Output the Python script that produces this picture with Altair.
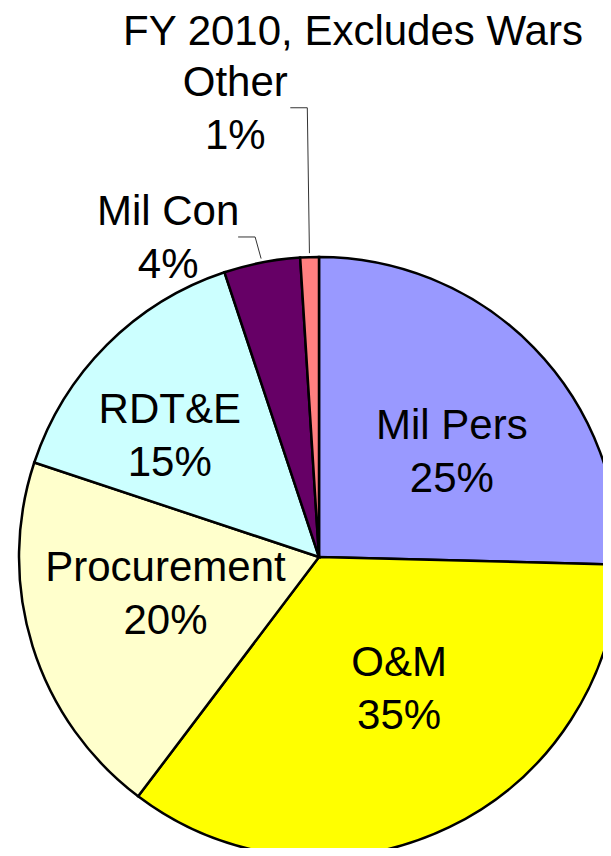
import math
import altair as alt
import pandas as pd

# ---- data ----
categories = ["Mil Pers", "O&M", "Procurement", "RDT&E", "Mil Con", "Other"]
shares = [25.4, 34.9, 19.8, 14.8, 4.1, 1.0]
pct_labels = ["25%", "35%", "20%", "15%", "4%", "1%"]
colors = ["#9999FF", "#FFFF00", "#FFFFCC", "#CCFFFF", "#660066", "#FF8080"]
title_text = "FY 2010, Excludes Wars"

# ---- layout / style ----
W, H = 595, 840
CX, CY = 311, 549
R = 300
FONT = "Liberation Sans"
FS = 42
LH = 53
label_shift_deg = [6.1, -5.4, 3.6, -6.0, -14.4, -8.8]
label_radius = [169, 155, 158, 192, 352, 455]
leader_for = ["Mil Con", "Other"]
label_half_width = {"Mil Con": 67, "Other": 52}

total = sum(shares)
rows, labels = [], []
cum = 0.0
for i, (c, s, p) in enumerate(zip(categories, shares, pct_labels)):
    mid = (cum + s / 2) / total * 2 * math.pi
    cum += s
    rows.append({"category": c, "share": s, "idx": i})
    ang = mid + math.radians(label_shift_deg[i])
    labels.append({"category": c, "txt": c + "\n" + p, "ang": ang,
                   "rad": label_radius[i], "mid": mid})

df = pd.DataFrame(rows)
lab = pd.DataFrame(labels)

# leader lines derived from label positions and slice mid-angles
lead_rows = []
for l in labels:
    if l["category"] in leader_for:
        lx = CX + l["rad"] * math.sin(l["ang"])
        ly = CY - l["rad"] * math.cos(l["ang"]) - 2
        sx = lx + label_half_width[l["category"]] + 3
        ex = CX + (R + 4) * math.sin(l["mid"])
        ey = CY - (R + 4) * math.cos(l["mid"])
        pts = [(sx, ly), (sx + 17, ly), (ex, ey)]
        for k, (px, py) in enumerate(pts):
            lead_rows.append({"leader": l["category"], "step": k, "px": px, "py": py})
lead = pd.DataFrame(lead_rows)

pie = alt.Chart(df).mark_arc(radius=R, stroke="black", strokeWidth=2.5).encode(
    theta=alt.Theta("share:Q", stack=True),
    order=alt.Order("idx:Q"),
    color=alt.Color("category:N", scale=alt.Scale(domain=categories, range=colors), legend=None),
    x=alt.value(CX),
    y=alt.value(CY),
)

text = alt.Chart(lab).mark_text(
    font=FONT, fontSize=FS, lineHeight=LH, lineBreak="\n",
    baseline="middle", align="center", color="black", dy=-LH / 2
).encode(
    x=alt.value(CX),
    y=alt.value(CY),
    theta=alt.Theta("ang:Q", scale=None, stack=False),
    radius=alt.Radius("rad:Q", scale=None),
    text="txt:N",
)

leaders = alt.Chart(lead).mark_line(color="#333333", strokeWidth=1).encode(
    x=alt.X("px:Q", scale=None, axis=None),
    y=alt.Y("py:Q", scale=None, axis=None),
    detail="leader:N",
    order="step:Q",
)

title = alt.Chart(pd.DataFrame({"t": [title_text]})).mark_text(
    font=FONT, fontSize=FS, baseline="alphabetic", align="center", color="black"
).encode(
    text="t:N",
    x=alt.value(345),
    y=alt.value(37),
)

chart = alt.layer(pie, leaders, text, title).properties(
    width=W, height=H,
    autosize=alt.AutoSizeParams(type="none"),
    padding=0,
).configure_view(stroke=None)

chart.save("out.html", embed_options={"renderer": "svg", "actions": False})
